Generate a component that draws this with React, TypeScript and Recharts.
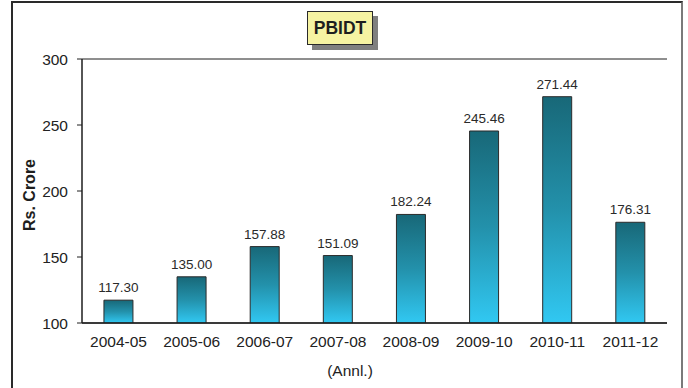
import React from "react";
import {
  BarChart,
  Bar,
  XAxis,
  YAxis,
  CartesianGrid,
  LabelList,
} from "recharts";

// Financial years shown on the category axis
const years = [
  "2004-05",
  "2005-06",
  "2006-07",
  "2007-08",
  "2008-09",
  "2009-10",
  "2010-11",
  "2011-12",
];

// PBIDT in Rs. Crore
const pbidt = [117.3, 135.0, 157.88, 151.09, 182.24, 245.46, 271.44, 176.31];

const yTicks = [100, 150, 200, 250, 300];
const boundaryTicks = [0, 1, 2, 3, 4, 5, 6, 7, 8];

const data = years.map((year, i) => ({ year, value: pbidt[i] }));

const FONT = "'Liberation Sans', Arial, Helvetica, sans-serif";

const EmptyTick = () => <g />;

export default function App() {
  return (
    <div
      style={{
        position: "absolute",
        left: 0,
        top: 0,
        width: 688,
        height: 388,
        overflow: "hidden",
        background: "#ffffff",
        fontFamily: FONT,
      }}
    >
      {/* outer frame */}
      <div
        style={{
          position: "absolute",
          left: 11,
          top: 1,
          width: 668,
          height: 420,
          borderLeft: "2px solid #2a2a2a",
          borderTop: "2px solid #2a2a2a",
          borderRight: "2px solid #7a7a7a",
        }}
      />
      <BarChart
        width={688}
        height={388}
        data={data}
        margin={{ top: 59, right: 21, bottom: 35, left: 12 }}
        barCategoryGap="30%"
        style={{ position: "absolute", left: 0, top: 0 }}
      >
        <defs>
          <linearGradient id="barFill" x1="0" y1="0" x2="0" y2="1">
            <stop offset="0%" stopColor="#186878" />
            <stop offset="50%" stopColor="#2391ab" />
            <stop offset="100%" stopColor="#31c8f2" />
          </linearGradient>
        </defs>
        <CartesianGrid
          horizontal={true}
          vertical={false}
          stroke="#1e1e1e"
          strokeWidth={1}
        />
        {/* tick marks at category boundaries */}
        <XAxis
          xAxisId="edges"
          type="number"
          domain={[0, 8]}
          ticks={boundaryTicks}
          allowDataOverflow
          axisLine={false}
          tickLine={{ stroke: "#1e1e1e" }}
          tickSize={7}
          tick={EmptyTick}
          height={0}
        />
        <XAxis
          xAxisId="cat"
          dataKey="year"
          type="category"
          axisLine={{ stroke: "#1e1e1e", strokeWidth: 1.5 }}
          tickLine={false}
          tickSize={8}
          tickMargin={5}
          tick={{ fill: "#222222", fontSize: 15.5, fontFamily: FONT }}
          height={30}
          interval={0}
        />
        <YAxis
          yAxisId="left"
          domain={[100, 300]}
          ticks={yTicks}
          width={70}
          axisLine={{ stroke: "#1e1e1e", strokeWidth: 1.5 }}
          tickLine={{ stroke: "#1e1e1e" }}
          tickSize={5}
          tickMargin={9}
          tick={{ fill: "#222222", fontSize: 15.5, fontFamily: FONT }}
          allowDataOverflow
        />
        {/* right-hand edge of the plot frame */}
        <YAxis
          yAxisId="right"
          orientation="right"
          domain={[100, 300]}
          width={0}
          tick={false}
          tickLine={false}
          axisLine={{ stroke: "#1e1e1e", strokeWidth: 1.5 }}
        />
        <Bar
          xAxisId="cat"
          yAxisId="left"
          dataKey="value"
          fill="url(#barFill)"
          stroke="#2b2b2b"
          strokeWidth={1}
          isAnimationActive={false}
        >
          <LabelList
            dataKey="value"
            position="top"
            offset={8}
            fill="#2a2a2a"
            fontSize={13.5}
            fontFamily={FONT}
            formatter={(v: number) => Number(v).toFixed(2)}
          />
        </Bar>
      </BarChart>
      {/* axis captions */}
      <svg
        width={688}
        height={388}
        style={{ position: "absolute", left: 0, top: 0, pointerEvents: "none" }}
      >
        <text
          x={29}
          y={195}
          transform="rotate(-90 29 195)"
          textAnchor="middle"
          dominantBaseline="central"
          fontFamily={FONT}
          fontSize={16}
          fontWeight="bold"
          fill="#1e1e1e"
        >
          Rs. Crore
        </text>
        <text
          x={350}
          y={370}
          textAnchor="middle"
          dominantBaseline="central"
          fontFamily={FONT}
          fontSize={15.5}
          fill="#222222"
        >
          (Annl.)
        </text>
      </svg>
      {/* title box */}
      <div
        style={{
          position: "absolute",
          left: 307,
          top: 11,
          width: 64,
          height: 32,
          background: "#f6f3a2",
          border: "1px solid #2a2a2a",
          boxShadow: "5px 5px 0 #7f7f7f",
          display: "flex",
          alignItems: "center",
          justifyContent: "center",
          fontFamily: FONT,
          fontWeight: "bold",
          fontSize: 17.5,
          color: "#1e1e1e",
        }}
      >
        PBIDT
      </div>
    </div>
  );
}
